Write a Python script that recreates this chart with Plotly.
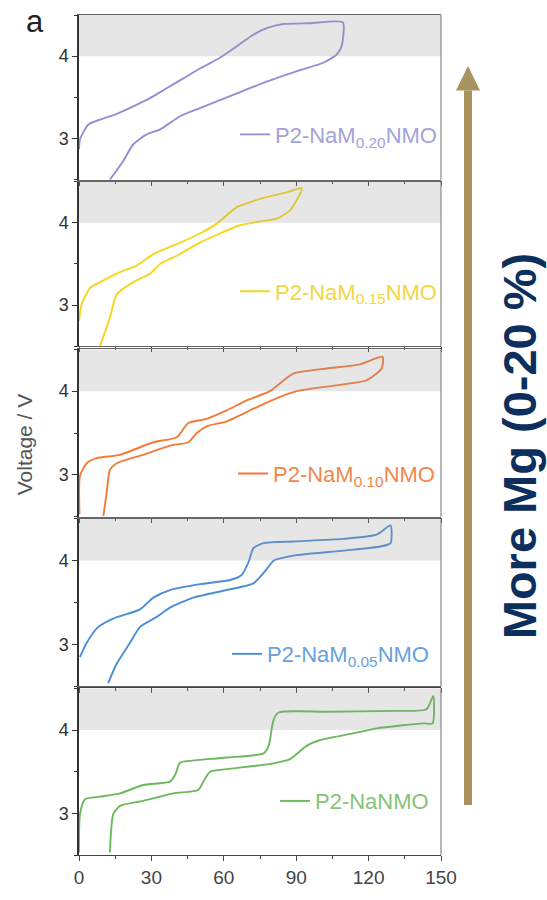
import plotly.graph_objects as go

# ---------------- data (capacity mAh/g, voltage V) ----------------
names = ["P2-NaM<sub>0.20</sub>NMO", "P2-NaM<sub>0.15</sub>NMO", "P2-NaM<sub>0.10</sub>NMO",
         "P2-NaM<sub>0.05</sub>NMO", "P2-NaNMO"]

cap_020 = [0, 0.4, 3.9, 8.7, 14.9, 22.5, 29.4, 36.3, 43.2, 50.1, 58.4, 65.4, 72.2, 77.8, 84.7, 95.7, 109.3,
           108.8, 106.8, 101.2, 91.6, 77.8, 63.9, 50.1, 41.9, 33.6, 28.0, 22.5, 18.4, 12.8]
volt_020 = [2.87, 2.99, 3.17, 3.23, 3.29, 3.39, 3.49, 3.61, 3.73, 3.85, 3.98, 4.12, 4.26, 4.34, 4.39, 4.40, 4.41,
            4.12, 4.02, 3.92, 3.83, 3.69, 3.53, 3.37, 3.27, 3.11, 3.05, 2.93, 2.73, 2.50]

cap_015 = [0, 1.1, 4.6, 10.1, 17.0, 23.9, 30.8, 40.5, 50.1, 57.1, 65.4, 75.0, 86.1, 92.3,
           91.6, 87.4, 81.9, 73.6, 66.7, 58.4, 50.1, 40.5, 33.6, 29.4, 22.5, 15.6, 12.8, 8.7]
volt_015 = [2.81, 3.01, 3.21, 3.30, 3.40, 3.48, 3.62, 3.74, 3.87, 3.99, 4.19, 4.29, 4.37, 4.42,
            4.35, 4.15, 4.05, 4.01, 3.97, 3.87, 3.76, 3.60, 3.50, 3.38, 3.28, 3.13, 2.85, 2.50]

cap_010 = [0.2, 0.4, 3.2, 7.3, 17.0, 30.8, 40.5, 45.3, 52.9, 61.2, 69.5, 79.1, 88.8, 102.6, 116.4, 125.8,
           125.4, 119.2, 109.5, 90.2, 80.6, 72.3, 61.2, 52.9, 48.8, 45.3, 37.7, 26.6, 15.6, 12.8, 11.5, 10.1]
volt_010 = [2.53, 2.99, 3.14, 3.20, 3.24, 3.39, 3.45, 3.62, 3.67, 3.77, 3.89, 4.00, 4.21, 4.27, 4.32, 4.41,
            4.27, 4.13, 4.08, 4.00, 3.90, 3.79, 3.64, 3.58, 3.50, 3.39, 3.35, 3.24, 3.14, 3.06, 2.80, 2.51]

cap_005 = [0.4, 3.2, 8.0, 14.2, 25.3, 30.8, 37.7, 50.1, 62.6, 67.4, 70.2, 72.3, 76.5, 88.8, 109.5, 123.3, 129.1,
           129.1, 124.9, 109.5, 88.8, 80.6, 77.8, 72.3, 61.2, 47.4, 37.7, 32.2, 25.3, 21.1, 15.6, 12.1]
volt_005 = [2.85, 3.02, 3.21, 3.31, 3.42, 3.56, 3.65, 3.72, 3.77, 3.83, 3.98, 4.15, 4.21, 4.23, 4.26, 4.31, 4.42,
            4.21, 4.17, 4.12, 4.06, 4.00, 3.90, 3.73, 3.65, 3.56, 3.44, 3.33, 3.21, 3.02, 2.77, 2.54]

cap_000 = [0, 0.4, 2.5, 8.7, 17.0, 26.6, 37.7, 39.8, 41.9, 46.0, 61.2, 76.5, 78.6, 80.6, 82.7, 102.6, 130.2, 144.0, 146.8,
           146.5, 142.7, 123.3, 113.6, 99.9, 94.3, 87.4, 80.6, 61.2, 54.3, 51.5, 49.4, 39.1, 26.6, 17.0, 14.2, 12.8]
volt_000 = [2.53, 2.99, 3.17, 3.20, 3.24, 3.34, 3.38, 3.46, 3.61, 3.63, 3.67, 3.72, 3.81, 4.12, 4.21, 4.22, 4.23, 4.25, 4.41,
            4.08, 4.08, 4.02, 3.96, 3.88, 3.81, 3.65, 3.60, 3.53, 3.50, 3.38, 3.28, 3.24, 3.15, 3.09, 2.99, 2.53]

caps = [cap_020, cap_015, cap_010, cap_005, cap_000]
volts = [volt_020, volt_015, volt_010, volt_005, volt_000]

x_ticks = [0, 30, 60, 90, 120, 150]
y_ticks = [3, 4]

# ---------------- styling ----------------
line_colors = ["#9090d4", "#f7d51a", "#f47a38", "#4a8fd6", "#6bb95a"]
text_colors = ["#a3a3db", "#f3d545", "#f2874c", "#66a2dc", "#86c276"]

W, H = 547, 900
L, R, T, B = 79, 441, 15, 872
PW, PH = R - L, B - T

def px(xp):
    return (xp - L) / PW

def py(yp):
    return (B - yp) / PH

tops = [15, 185, 356, 529, 702]
bots = [183, 353, 527, 700, 872]
leg_pos = [(442, 137), (442, 297), (440, 483), (434, 667), (434, 817)]

fig = go.Figure()
layout = dict(width=W, height=H, margin=dict(l=L, r=W - R, t=T, b=H - B),
              paper_bgcolor="white", plot_bgcolor="white",
              font=dict(family="Liberation Sans, Arial, sans-serif", color="#333"),
              showlegend=True)
shapes = []
annotations = []

for i in range(5):
    k = "" if i == 0 else str(i + 1)
    xa, ya = "x" + k, "y" + k
    lg = "legend" if i == 0 else "legend" + str(i + 1)
    fig.add_trace(go.Scatter(x=caps[i], y=volts[i], mode="lines", name=names[i],
                             xaxis=xa, yaxis=ya, legend=lg,
                             line=dict(color=line_colors[i], width=1.9, shape="spline", smoothing=0.6)))
    bottom = (i == 4)
    layout["xaxis" + k] = dict(domain=[0, 1], anchor=ya, range=[0, 150], tickvals=x_ticks,
                               showticklabels=bottom, ticks="outside", ticklen=5, tickwidth=1,
                               tickcolor="#444", showline=True, linecolor="#666" if not bottom else "#444",
                               linewidth=1.2, mirror=True, showgrid=False, zeroline=False,
                               minor=dict(dtick=15, ticks="outside", ticklen=3, tickcolor="#444"),
                               tickfont=dict(size=19, color="#444"))
    if i > 0:
        layout["xaxis" + k]["matches"] = "x"
    layout["yaxis" + k] = dict(domain=[py(bots[i]), py(tops[i])], anchor=xa, range=[2.5, 4.5],
                               tickvals=y_ticks, ticks="outside", ticklen=5, tickwidth=1.2, tickcolor="#333",
                               showline=True, linecolor="#333", linewidth=1.5, showgrid=False, zeroline=False,
                               minor=dict(tickvals=[2.5, 3.5, 4.5], ticks="outside", ticklen=3, tickcolor="#333"),
                               tickfont=dict(size=18, color="#333"))
    # grey high-voltage band (drawn above curves, translucent)
    shapes.append(dict(type="rect", xref=xa + " domain", yref=ya, x0=0, x1=1, y0=4.0, y1=4.5,
                       fillcolor="rgba(150,150,150,0.24)", line=dict(width=0), layer="above"))
    # right border
    shapes.append(dict(type="line", xref=xa + " domain", yref=ya + " domain", x0=1, x1=1, y0=0, y1=1,
                       line=dict(color="#888", width=1.2)))
    lx, ly = leg_pos[i]
    layout[lg] = dict(x=px(lx), y=py(ly), xanchor="right", yanchor="middle",
                      xref="paper", yref="paper", bgcolor="rgba(0,0,0,0)", borderwidth=0,
                      font=dict(size=22, color=text_colors[i], family="Liberation Sans, Arial, sans-serif"),
                      tracegroupgap=0, itemwidth=30)

# arrow (shaft + head)
shapes.append(dict(type="rect", xref="paper", yref="paper", x0=px(464), x1=px(472), y0=py(821), y1=py(92),
                   fillcolor="#a8925f", line=dict(width=0)))
shapes.append(dict(type="path", xref="paper", yref="paper",
                   path="M {} {} L {} {} L {} {} Z".format(px(456), py(92), px(480), py(92), px(468), py(67)),
                   fillcolor="#a8925f", line=dict(width=0)))

annotations.append(dict(text="<b>More Mg (0-20 %)</b>", xref="paper", yref="paper", x=px(519), y=py(455),
                        textangle=-90, showarrow=False, xanchor="center", yanchor="middle",
                        font=dict(size=47, color="#0d2f5e", family="Liberation Sans, Arial, sans-serif")))
annotations.append(dict(text="Voltage / V", xref="paper", yref="paper", x=px(24), y=py(453),
                        textangle=-90, showarrow=False, xanchor="center", yanchor="middle",
                        font=dict(size=21, color="#555")))
annotations.append(dict(text="a", xref="paper", yref="paper", x=px(35), y=py(22),
                        showarrow=False, xanchor="center", yanchor="middle",
                        font=dict(size=31, color="#222")))

layout["shapes"] = shapes
layout["annotations"] = annotations
fig.update_layout(**layout)
fig.write_html("out.html")
